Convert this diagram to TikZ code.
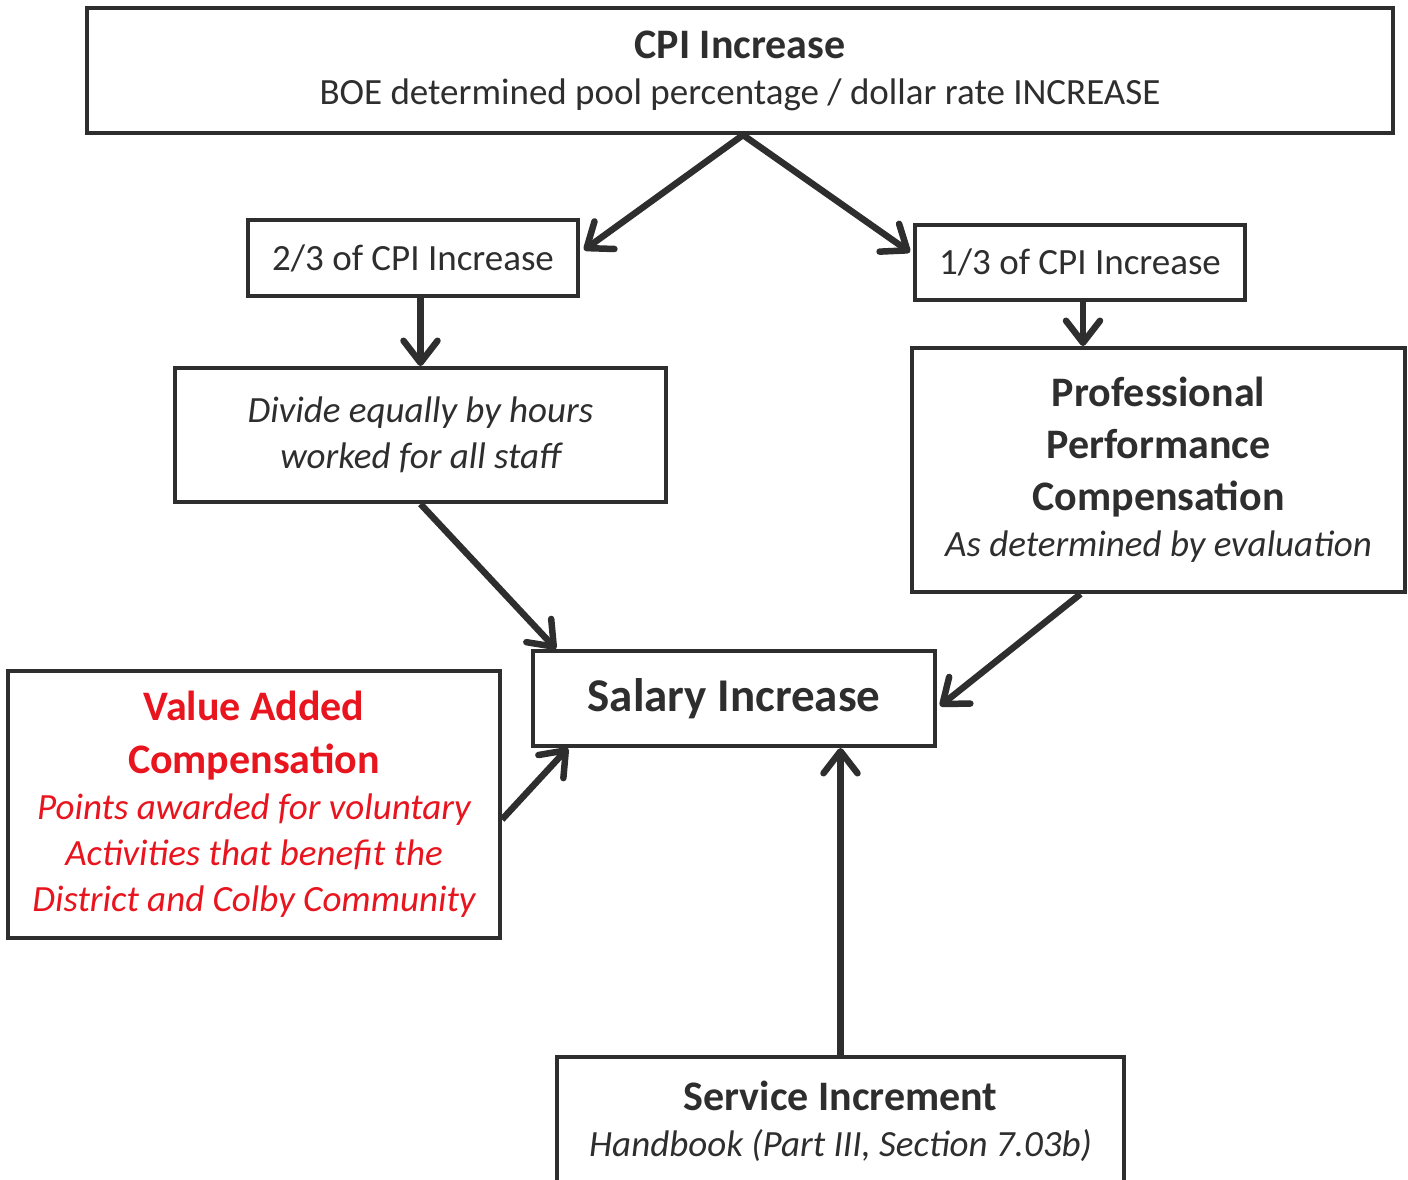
\documentclass[tikz,border=0pt]{standalone}
\usepackage{fontspec}
\setmainfont{Carlito}
\usetikzlibrary{arrows.meta,calc}
\definecolor{ink}{HTML}{2E2E2E}
\definecolor{vred}{HTML}{E8141E}
\tikzset{
  box/.style={draw=ink,line width=4pt,rectangle,inner sep=0pt,align=center,text=ink,
    font=\fontsize{37}{46}\selectfont},
  conn/.style={draw=ink,line width=6.5pt,-{Straight Barb[length=22pt,width=34pt,round]}},
}
\newcommand{\bigb}{\fontsize{42}{46}\selectfont\bfseries\upshape}
\newcommand{\smi}{\fontsize{37}{46}\selectfont\mdseries\itshape}
\newcommand{\smr}{\fontsize{37}{46}\selectfont\mdseries\upshape}
\begin{document}
\begin{tikzpicture}[x=1pt,y=-1pt]
\clip (0,0) rectangle (1408,1179);
\fill[white] (0,0) rectangle (1408,1179);
\node[box,minimum width=1306pt,minimum height=125pt] (top) at (740,70.5)
  {\raisebox{-5pt}{\bigb CPI Increase}\\\raisebox{-5pt}{\smr BOE determined pool percentage / dollar rate INCREASE}};
\node[box,minimum width=330pt,minimum height=76pt] (two) at (413,258) {2/3 of CPI Increase};
\node[box,minimum width=330pt,minimum height=75pt] (one) at (1080,262.5) {1/3 of CPI Increase};
\node[box,minimum width=491pt,minimum height=134pt] (divide) at (420.5,435) {\smi Divide equally by hours\\\smi worked for all staff};
\node[box,minimum width=493pt,minimum height=244pt] (prof) at (1158.5,470)
  {\bigb Professional\\[6pt]\bigb Performance\\[6pt]\bigb Compensation\\\smi As determined by evaluation};
\node[box,minimum width=402pt,minimum height=95pt,font=\fontsize{47}{50}\selectfont\bfseries] (salary) at (734,698.5) {Salary Increase};
\node[box,minimum width=492pt,minimum height=267pt,text=vred] (value) at (254,804.5)
  {\bigb Value Added\\[7pt]\bigb Compensation\\\smi Points awarded for voluntary\\\smi Activities that benefit the\\\smi District and Colby Community};
\node[box,minimum width=567pt,minimum height=128pt] (service) at (840.5,1121)
  {\bigb Service Increment\\\smi Handbook (Part III, Section 7.03b)};
% connectors
\draw[conn] ([xshift=3pt]top.south) -- ([xshift=4pt]$(two.north east)!0.4!(two.south east)$);
\draw[conn] ([xshift=3pt]top.south) -- ([xshift=-3pt]$(one.north west)!0.37!(one.south west)$);
\draw[conn] (divide.north |- two.south) -- (divide.north);
\draw[conn] ([xshift=3pt]one.south) -- ([xshift=3pt]one.south |- prof.north);
\draw[conn] (divide.south) -- ([xshift=25pt]salary.north west);
\draw[conn] ([xshift=-78pt]prof.south) -- ([xshift=3pt,yshift=-7.5pt]salary.east);
\draw[conn] ([yshift=-15pt]value.east) -- ([xshift=37pt]salary.south west);
\draw[conn] (service.north) -- (service.north |- salary.south);
\end{tikzpicture}
\end{document}
